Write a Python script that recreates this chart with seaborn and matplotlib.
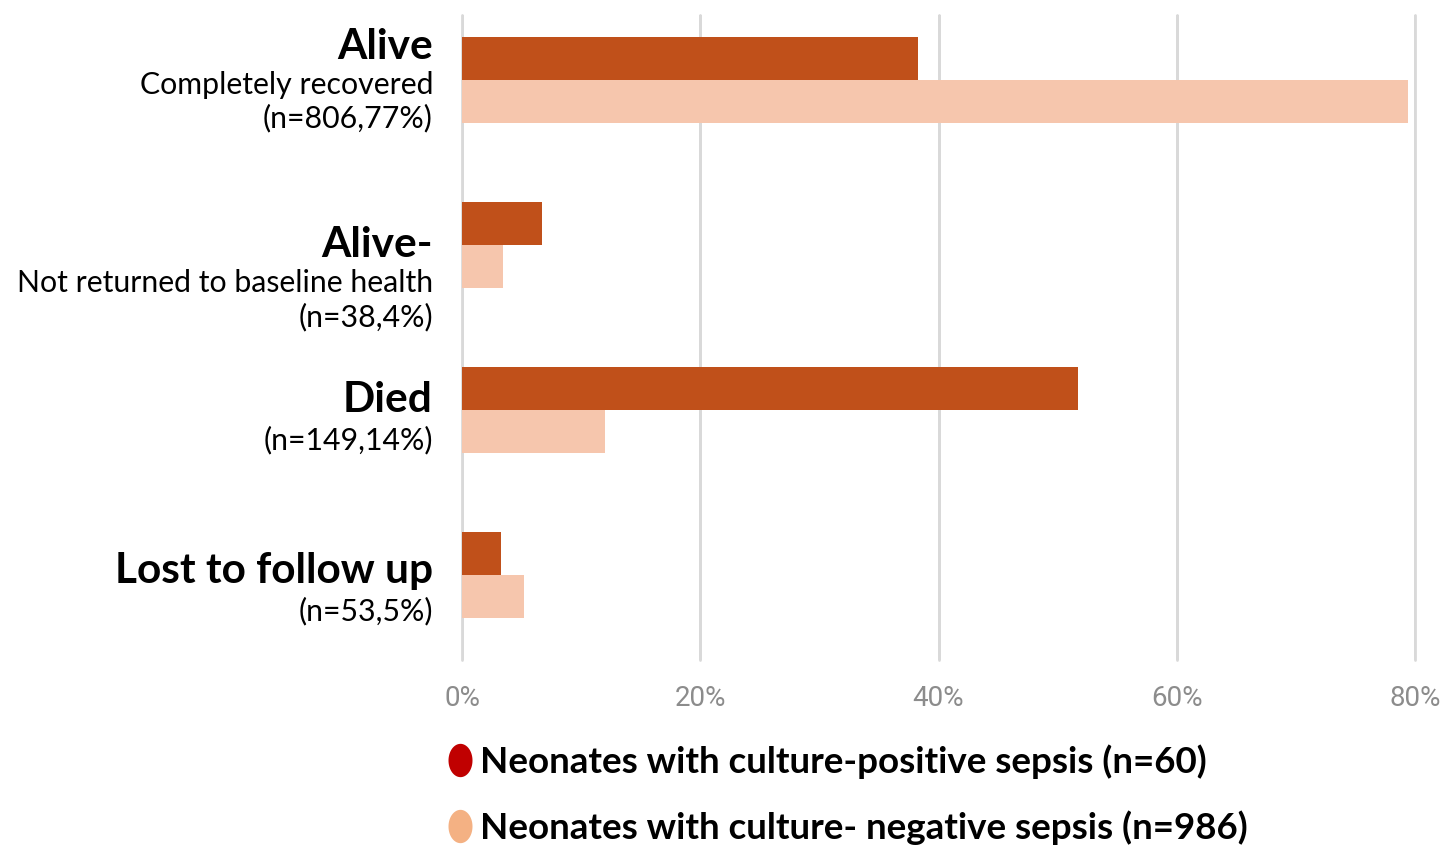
import matplotlib
matplotlib.use("Agg")
import matplotlib.pyplot as plt
from matplotlib.lines import Line2D
from matplotlib.path import Path
import numpy as np
import pandas as pd
import seaborn as sns

# Outcome categories and their descriptive sub-lines
outcomes = ["Alive", "Alive-", "Died", "Lost to follow up"]
subtitles = [
    ["Completely recovered", "(n=806,77%)"],
    ["Not returned to baseline health", "(n=38,4%)"],
    ["(n=149,14%)"],
    ["(n=53,5%)"],
]

# Percent of neonates in each outcome, per sepsis group
groups = ["Neonates with culture-positive sepsis (n=60)",
          "Neonates with culture- negative sepsis (n=986)"]
positive_pct = [38.3, 6.7, 51.7, 3.3]
negative_pct = [79.4, 3.4, 12.0, 5.2]

xticks = [0, 20, 40, 60, 80]
xtick_labels = ["0%", "20%", "40%", "60%", "80%"]

bar_colors = ["#C0501A", "#F6C6AD"]
legend_colors = ["#C00000", "#F4B183"]

df = pd.DataFrame({
    "outcome": outcomes * 2,
    "pct": positive_pct + negative_pct,
    "group": [groups[0]] * len(outcomes) + [groups[1]] * len(outcomes),
})

sns.set_theme(style="white")
plt.rcParams["font.family"] = ["Lato", "DejaVu Sans"]
plt.rcParams["text.color"] = "black"

fig = plt.figure(figsize=(14.45, 8.49), dpi=100)
ax = fig.add_axes([462 / 1445, 1 - 660 / 849, (1415 - 462) / 1445, (660 - 15) / 849])

sns.barplot(data=df, y="outcome", x="pct", hue="group", order=outcomes,
            hue_order=groups, palette=bar_colors, orient="h", width=0.52,
            gap=0, saturation=1, linewidth=0, ax=ax, legend=False)

ax.set_xlim(0, 80)
ax.set_ylim(3.515, -0.394)
ax.set_xticks(xticks)
ax.set_xticklabels(xtick_labels, color="#8c8c8c", fontsize=20, family="Roboto")
ax.tick_params(axis="x", length=0, pad=18)
ax.set_yticks([])
ax.set_xlabel("")
ax.set_ylabel("")
for s in ax.spines.values():
    s.set_visible(False)
ax.xaxis.grid(True, color="#d9d9d9", linewidth=2)
ax.set_axisbelow(True)
for x in xticks:
    ax.axvline(x, color="#d9d9d9", linewidth=2, zorder=0, clip_on=False)

# Category labels: bold title plus smaller lines, right-aligned left of the axis
title_offsets = [-33, 0, -10, -4]
sub_offsets = [[5, 38], [38, 72], [30], [36]]
label_x = -29 / (1415 - 462)
for i, (title, subs) in enumerate(zip(outcomes, subtitles)):
    ax.annotate(title, xy=(label_x, i), xycoords=("axes fraction", "data"),
                xytext=(0, -title_offsets[i] * 0.72), textcoords="offset points",
                ha="right", va="center", fontsize=30.5, fontweight="bold",
                color="black")
    for line, off in zip(subs, sub_offsets[i]):
        ax.annotate(line, xy=(label_x, i), xycoords=("axes fraction", "data"),
                    xytext=(0, -off * 0.72), textcoords="offset points",
                    ha="right", va="center", fontsize=21.8, color="black")

# Legend with tall oval markers
theta = np.linspace(0, 2 * np.pi, 60)
oval = Path(np.column_stack([0.72 * np.cos(theta), np.sin(theta)]), closed=True)
handles = [Line2D([], [], linestyle="none", marker=oval, markersize=24,
                  markerfacecolor=c, markeredgewidth=0) for c in legend_colors]
leg = fig.legend(handles, groups, loc="upper left",
                 bbox_to_anchor=(451 / 1445, 1 - 744 / 849), frameon=False,
                 prop={"family": "Lato", "weight": "bold", "size": 26.5},
                 handlelength=0.5, handletextpad=0.3, labelspacing=0.87,
                 borderpad=0, borderaxespad=0)
for t in leg.get_texts():
    t.set_color("black")

fig.savefig("out.png", dpi=100, facecolor="white")
